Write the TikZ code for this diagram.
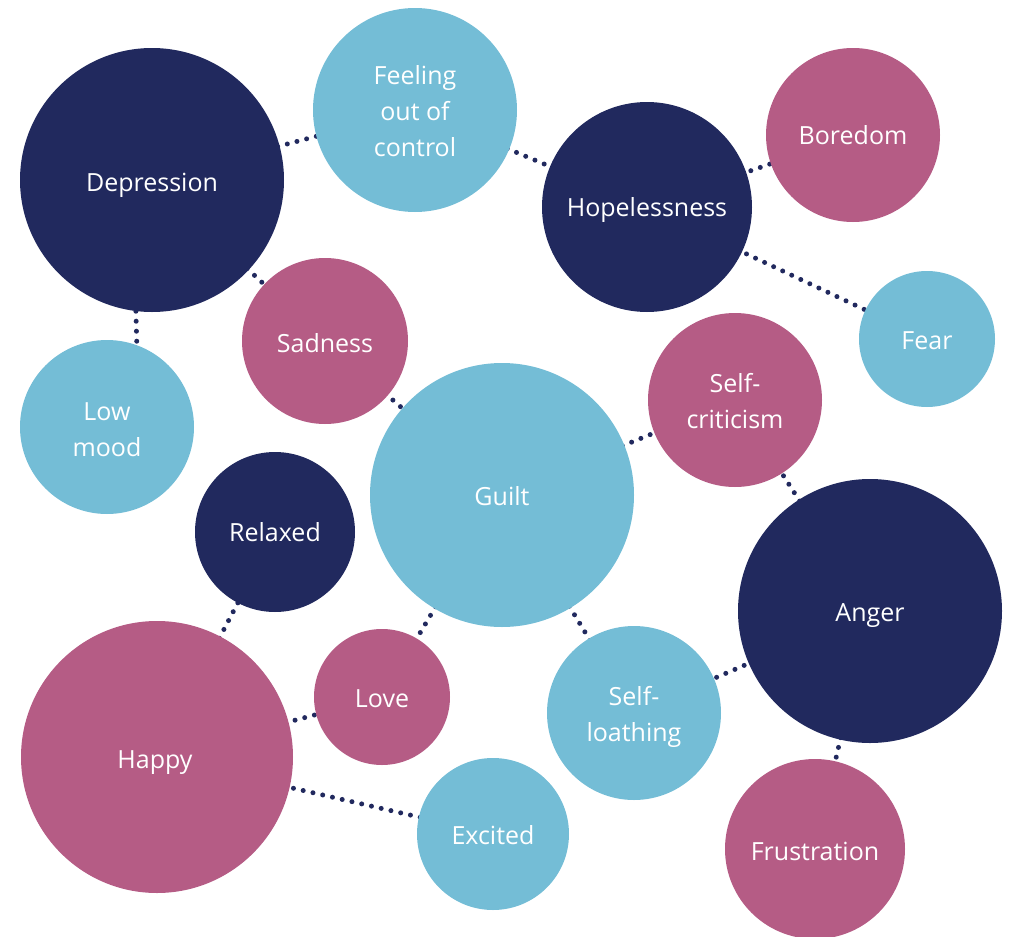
\documentclass[tikz,border=0pt]{standalone}
\usepackage{fontspec}
\setmainfont{Open Sans}
\usetikzlibrary{backgrounds}
\definecolor{navy}{RGB}{33,41,94}
\definecolor{pinkc}{RGB}{181,92,133}
\definecolor{bluec}{RGB}{116,189,214}
\begin{document}
\begin{tikzpicture}[x=1pt,y=-1pt,
  bub/.style={circle,inner sep=0pt,minimum size=#1},
  dk/.style={bub=#1,fill=navy},
  pk/.style={bub=#1,fill=pinkc},
  lb/.style={bub=#1,fill=bluec},
  lbl/.style={inner sep=0pt,align=center,text=white,
    font=\fontsize{25}{36}\selectfont,yshift=-#1},
  lbl/.default=0pt,
  link/.style={draw=navy,line width=5pt,line cap=round,dash pattern=on 0pt off 10pt}]
\useasboundingbox (0,0) rectangle (1013,937);
% circles
\node[dk=264pt] (dep) at (152,180) {};
\node[lb=204pt] (feel) at (415,110) {};
\node[dk=210pt] (hope) at (647,207) {};
\node[pk=174pt] (bore) at (853,135) {};
\node[lb=136pt] (fear) at (927,339) {};
\node[pk=166pt] (sad) at (325,341) {};
\node[lb=174pt] (low) at (107,427) {};
\node[pk=174pt] (selfc) at (735,400) {};
\node[lb=264pt] (guilt) at (502,495) {};
\node[dk=160pt] (rel) at (275,532) {};
\node[dk=264pt] (anger) at (870,611) {};
\node[pk=272pt] (happy) at (157,757) {};
\node[pk=136pt] (love) at (382,697) {};
\node[lb=174pt] (loath) at (634,713) {};
\node[lb=152pt] (exc) at (493,834) {};
\node[pk=180pt] (frus) at (815,849) {};
% connectors, behind the circles
\begin{scope}[on background layer]
\draw[link] (dep.center) -- (feel.center);
\draw[link] (dep.center) -- (sad.center);
\draw[link] (dep.263) -- (low.70);
\draw[link] (feel.center) -- (hope.center);
\draw[link] (hope.center) -- (bore.center);
\draw[link] (hope.center) -- (fear.center);
\draw[link] (sad.center) -- (guilt.center);
\draw[link] (guilt.center) -- (selfc.center);
\draw[link] (selfc.center) -- (anger.center);
\draw[link] (guilt.center) -- (love.center);
\draw[link] (guilt.center) -- (loath.center);
\draw[link] (rel.center) -- (happy.center);
\draw[link] (love.center) -- (happy.center);
\draw[link] (happy.center) -- (exc.center);
\draw[link] (loath.center) -- (anger.center);
\draw[link] (anger.center) -- (frus.center);
\end{scope}
% labels
\node[lbl=5pt] (tdep) at (dep) {Depression};
\node[lbl=1pt] (tfeel) at (feel) {Feeling\\out of\\control};
\node[lbl=3pt] (thope) at (hope) {Hopelessness};
\node[lbl] (tbore) at (bore) {Boredom};
\node[lbl=2pt] (tfear) at (fear) {Fear};
\node[lbl=2pt] (tsad) at (sad) {Sadness};
\node[lbl=3pt] (tlow) at (low) {Low\\mood};
\node[lbl=1pt] (tselfc) at (selfc) {Self-\\criticism};
\node[lbl=1pt] (tguilt) at (guilt) {Guilt};
\node[lbl] (trel) at (rel) {Relaxed};
\node[lbl=5pt] (tanger) at (anger) {Anger};
\node[lbl=6pt,xshift=-2pt] (thappy) at (happy) {Happy};
\node[lbl=2pt] (tlove) at (love) {Love};
\node[lbl=4pt] (tloath) at (loath) {Self-\\loathing};
\node[lbl=1pt] (texc) at (exc) {Excited};
\node[lbl=2pt] (tfrus) at (frus) {Frustration};
\end{tikzpicture}
\end{document}
